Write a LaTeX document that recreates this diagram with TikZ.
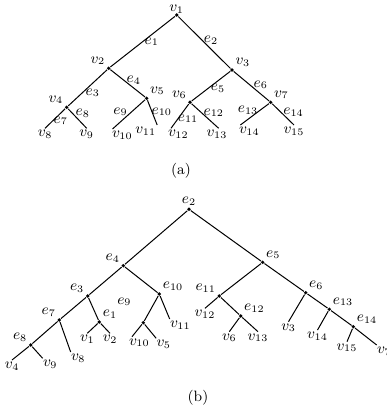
\documentclass[tikz,border=0pt]{standalone}
\usepackage{tikz}
\usetikzlibrary{positioning}
\begin{document}
\begin{tikzpicture}[x=0.6pt, y=-0.6pt,
    font=\fontsize{9}{10.8}\selectfont,
    dot/.style={circle, fill=black, inner sep=0pt, minimum size=2.2pt},
    lbl/.style={inner sep=1pt},
    leaf/.style={inner sep=1pt},
    edge/.style={line width=0.6pt},
    every label/.style={inner sep=1pt},
    label distance=0pt
  ]
  \useasboundingbox (0,0) rectangle (387,411);

  % (a) the tree on the vertices
  \node[dot, label={[yshift=-1.5pt]above:$v_1$}] (v1) at (176.7,15) {};
  \node[dot, label=above left:$v_2$] (v2) at (108.7,68.3) {};
  \node[dot, label=above right:$v_3$] (v3) at (232,70) {};
  \node[dot, label=above left:$v_4$] (v4) at (66.7,107.3) {};
  \node[dot, label=above right:$v_5$] (v5) at (146.7,98.3) {};
  \node[dot, label=above left:$v_6$] (v6) at (190,102.3) {};
  \node[dot, label=above right:$v_7$] (v7) at (270.7,102.3) {};
  \node[leaf, anchor=north] (v8) at (45,128.3) {$v_8$};
  \node[leaf, anchor=north] (v9) at (86.7,128.3) {$v_9$};
  \node[leaf, anchor=north west] (v10) at (110,129) {$v_{10}$};
  \node[leaf, anchor=north east] (v11) at (158,125) {$v_{11}$};
  \node[leaf, anchor=north west] (v12) at (166,128.3) {$v_{12}$};
  \node[leaf, anchor=north] (v13) at (217,128.3) {$v_{13}$};
  \node[leaf, anchor=north west] (v14) at (237,125) {$v_{14}$};
  \node[leaf, anchor=north] (v15) at (294,125) {$v_{15}$};

  \draw[edge] (v1) -- (v2);
  \draw[edge] (v1) -- (v3);
  \draw[edge] (v2) -- (v4);
  \draw[edge] (v2) -- (v5);
  \draw[edge] (v3) -- (v6);
  \draw[edge] (v3) -- (v7);
  \draw[edge] (v4) -- (v8.north);
  \draw[edge] (v4) -- (v9.north);
  \draw[edge] (v5) -- ([xshift=1.5pt]v10.north west);
  \draw[edge] (v5) -- ([xshift=-0.5pt]v11.north east);
  \draw[edge] (v6) -- ([xshift=3pt]v12.north west);
  \draw[edge] (v6) -- ([xshift=1pt]v13.north);
  \draw[edge] (v7) -- ([xshift=2pt]v14.north west);
  \draw[edge] (v7) -- (v15.north);

  \node[lbl] (e1) at (151.7,41.7) {$e_1$};
  \node[lbl] (e2) at (211,40) {$e_2$};
  \node[lbl] (e3) at (92.8,92.8) {$e_3$};
  \node[lbl] (e4) at (133.8,80) {$e_4$};
  \node[lbl] (e5) at (218,88) {$e_5$};
  \node[lbl] (e6) at (260.8,84.7) {$e_6$};
  \node[lbl] (e7) at (60.8,120.8) {$e_7$};
  \node[lbl] (e8) at (82.8,113.3) {$e_8$};
  \node[lbl] (e9) at (120.5,111.7) {$e_9$};
  \node[lbl] (e10) at (161.7,111.7) {$e_{10}$};
  \node[lbl] (e11) at (188,118.7) {$e_{11}$};
  \node[lbl] (e12) at (213.8,112.8) {$e_{12}$};
  \node[lbl] (e13) at (248,110.5) {$e_{13}$};
  \node[lbl] (e14) at (293.5,112.3) {$e_{14}$};

  \node (capa) at (181,171) {(a)};

  % (b) the tree on the edges
  \node[dot, label=above:$e_2$] (be2) at (189,209.3) {};
  \node[dot, label=above left:$e_4$] (be4) at (123.3,265.7) {};
  \node[dot, label=above left:$e_3$] (be3) at (87.7,296) {};
  \node[dot, label=above right:$e_{10}$] (be10) at (159.3,294) {};
  \node[dot, label=above left:$e_7$] (be7) at (59.3,320) {};
  \node[dot, label=above right:$e_1$] (be1) at (99.3,322) {};
  \node[dot, label={[xshift=-5pt, yshift=8pt]above left:$e_9$}] (be9) at (143.3,322.7) {};
  \node[dot, label=above left:$e_8$] (be8) at (30.7,345) {};
  \node[dot, label=above right:$e_5$] (be5) at (262.7,262.3) {};
  \node[dot, label=above left:$e_{11}$] (be11) at (219.3,296) {};
  \node[dot, label=above right:$e_{12}$] (be12) at (240.7,316) {};
  \node[dot, label=above right:$e_6$] (be6) at (305.7,292.7) {};
  \node[dot, label=above right:$e_{13}$] (be13) at (329.3,309.3) {};
  \node[dot, label=above right:$e_{14}$] (be14) at (353.3,326.7) {};

  \node[leaf, anchor=north] (bv4) at (12,360) {$v_4$};
  \node[leaf, anchor=north west] (bv9) at (41,358.3) {$v_9$};
  \node[leaf, anchor=north west] (bv8) at (69,352) {$v_8$};
  \node[leaf, anchor=north] (bv1) at (87.3,333.3) {$v_1$};
  \node[leaf, anchor=north] (bv2) at (110,333.3) {$v_2$};
  \node[leaf, anchor=north west] (bv10) at (127,336.7) {$v_{10}$};
  \node[leaf, anchor=north west] (bv5) at (154.5,338.3) {$v_5$};
  \node[leaf, anchor=north west] (bv11) at (168,319) {$v_{11}$};
  \node[leaf, anchor=north] (bv12) at (205,308.3) {$v_{12}$};
  \node[leaf, anchor=north] (bv6) at (229.3,331.7) {$v_6$};
  \node[leaf, anchor=north] (bv13) at (258,331.7) {$v_{13}$};
  \node[leaf, anchor=north] (bv3) at (288.5,321.7) {$v_3$};
  \node[leaf, anchor=north] (bv14) at (317.5,330) {$v_{14}$};
  \node[leaf, anchor=north] (bv15) at (347,341.7) {$v_{15}$};
  \node[leaf, anchor=north west] (bv7) at (375,345) {$v_7$};

  \draw[edge] (be2) -- (be4);
  \draw[edge] (be2) -- (be5);
  \draw[edge] (be4) -- (be3);
  \draw[edge] (be4) -- (be10);
  \draw[edge] (be3) -- (be7);
  \draw[edge] (be3) -- (be1);
  \draw[edge] (be7) -- (be8);
  \draw[edge] (be7) -- ([xshift=1pt]bv8.north west);
  \draw[edge] (be8) -- (bv4.north);
  \draw[edge] (be8) -- ([xshift=1pt]bv9.north west);
  \draw[edge] (be1) -- (bv1.north);
  \draw[edge] (be1) -- (bv2.north);
  \draw[edge] (be10) -- (be9);
  \draw[edge] (be10) -- ([xshift=1pt]bv11.north west);
  \draw[edge] (be9) -- ([xshift=3pt]bv10.north west);
  \draw[edge] (be9) -- ([xshift=1pt]bv5.north west);
  \draw[edge] (be5) -- (be11);
  \draw[edge] (be5) -- (be6);
  \draw[edge] (be11) -- (bv12.north);
  \draw[edge] (be11) -- (be12);
  \draw[edge] (be12) -- (bv6.north);
  \draw[edge] (be12) -- (bv13.north);
  \draw[edge] (be6) -- (bv3.north);
  \draw[edge] (be6) -- (be13);
  \draw[edge] (be13) -- (bv14.north);
  \draw[edge] (be13) -- (be14);
  \draw[edge] (be14) -- (bv15.north);
  \draw[edge] (be14) -- ([xshift=1pt]bv7.north west);

  \node (capb) at (198,398) {(b)};
\end{tikzpicture}
\end{document}
